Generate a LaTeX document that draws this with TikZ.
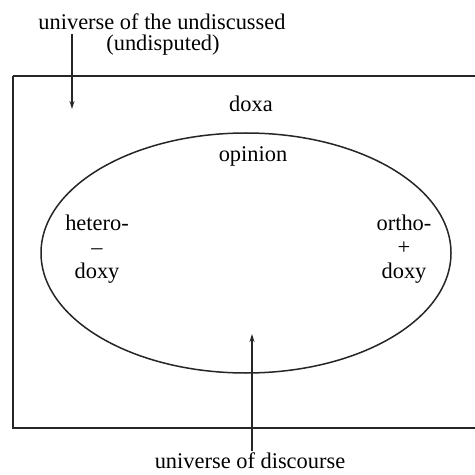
\documentclass[tikz,border=0pt]{standalone}
\usepackage{fontspec}
\setmainfont{Liberation Serif}
\usetikzlibrary{arrows.meta}
\tikzset{
  lbl/.style={font=\fontsize{22.5}{24}\selectfont, inner sep=0pt, align=center, text=black},
  frame/.style={draw=black!85, line width=1.8bp},
  oval/.style={draw=black!85, line width=1.5bp},
  ptr/.style={draw=black!85, line width=1.2bp, -{Stealth[length=8bp,width=5bp]}}
}
\begin{document}
\begin{tikzpicture}[x=1bp,y=-1bp]
\useasboundingbox (0,0) rectangle (475,475);
\clip (0,0) rectangle (475,475);
\fill[white] (0,0) rectangle (475,475);
\draw[frame] (13,76) -- (490,76) (13,76) -- (13,428) -- (490,428);
\draw[oval] (246,253) ellipse [x radius=205, y radius=120];
\node[lbl] (und) at (162,22) {universe of the undiscussed};
\node[lbl] (undp) at (163,45) {(undisputed)};
\node[lbl] (doxa) at (251,104) {doxa};
\node[lbl] (opin) at (253,156) {opinion};
\node[lbl] (het) at (97,249) {hetero-\\–\\doxy};
\node[lbl] (orth) at (404,249) {ortho-\\+\\doxy};
\node[lbl,anchor=base] (disc) at (250,468) {universe of discourse};
\coordinate (t1) at (72,34);
\coordinate (t2) at (72,109);
\coordinate (b1) at (252,451);
\coordinate (b2) at (252,334);
\draw[ptr] (t1) -- (t2);
\draw[ptr] (b1) -- (b2);
\end{tikzpicture}
\end{document}
